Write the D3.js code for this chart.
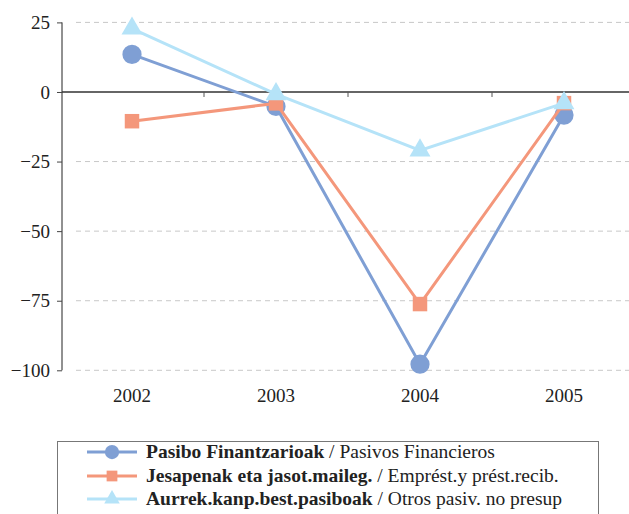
<!DOCTYPE html>
<html><head><meta charset="utf-8">
<script src="https://cdn.jsdelivr.net/npm/d3@7"></script>
<style>
body{margin:0;background:#fff;}
svg{display:block;}
svg text{font-family:"Liberation Serif","DejaVu Serif",Tinos,"Times New Roman",serif !important;}
</style></head>
<body><svg id="c" width="629" height="514"></svg>
<script>
const years = ["2002","2003","2004","2005"];
const yTicks = [25,0,-25,-50,-75,-100];
const pasibo = [13.5,-5.2,-97.8,-8.3];
const jesapenak = [-10.5,-4.1,-76.2,-4];
const aurrek = [22.8,-0.8,-21,-4];
const seriesNames = [
  ["Pasibo Finantzarioak"," / Pasivos Financieros"],
  ["Jesapenak eta jasot.maileg."," / Emprést.y prést.recib."],
  ["Aurrek.kanp.best.pasiboak"," / Otros pasiv. no presup"]
];
const colors = ["#7f9fd4","#f4977b","#b5e3f8"];
const symbols = [d3.symbolCircle,d3.symbolSquare,d3.symbolTriangle];
const symSizes = [290,210,190];
const series = [pasibo,jesapenak,aurrek];

const svg = d3.select("#c");
const x = d3.scaleBand().domain(years).range([60,636]);
const y = d3.scaleLinear().domain([-100,25]).range([370.3,22.4]);
const axX = 62;

svg.append("g").selectAll("line").data(yTicks.filter(v=>v!==0)).join("line")
  .attr("x1",76).attr("x2",629).attr("y1",d=>y(d)).attr("y2",d=>y(d))
  .attr("stroke","#c8c8c8").attr("stroke-width",1).attr("stroke-dasharray","5,4");

const ya = svg.append("g").attr("transform",`translate(${axX},0)`)
  .call(d3.axisLeft(y).tickValues(yTicks).tickSize(5).tickPadding(7).tickFormat(d3.format("d")));
ya.attr("font-family",null);
ya.select(".domain").attr("stroke","#222").attr("d",`M0,${y(25)}V${y(-100)}`);
ya.selectAll(".tick line").attr("stroke","#444");
ya.selectAll("text").attr("font-size",19).attr("fill","#222");

const xa = svg.append("g").attr("transform",`translate(0,${y(0)})`)
  .call(d3.axisBottom(x).tickSize(0).tickFormat(""));
xa.select(".domain").attr("stroke","#333").attr("stroke-width",1.5).attr("d",`M${axX},0H629`);
svg.append("g").selectAll("line").data(years.slice(1)).join("line")
  .attr("x1",d=>x(d)).attr("x2",d=>x(d)).attr("y1",y(0)).attr("y2",y(0)+5)
  .attr("stroke","#555").attr("stroke-width",1);

svg.append("g").selectAll("text").data(years).join("text")
  .attr("x",d=>x(d)+x.bandwidth()/2).attr("y",402).attr("text-anchor","middle")
  .attr("font-size",19).attr("fill","#222").text(d=>d);

const line = d3.line().x((d,i)=>x(years[i])+x.bandwidth()/2).y(d=>y(d));
series.forEach((s,k)=>{
  const g = svg.append("g");
  g.append("path").datum(s).attr("d",line).attr("fill","none")
    .attr("stroke",colors[k]).attr("stroke-width",3);
  g.selectAll("path.m").data(s).join("path").attr("class","m")
    .attr("d",d3.symbol().type(symbols[k]).size(symSizes[k]))
    .attr("transform",(d,i)=>`translate(${x(years[i])+x.bandwidth()/2},${y(d)})`)
    .attr("fill",colors[k]);
});

const lg = svg.append("g");
lg.append("rect").attr("x",57.5).attr("y",441.5).attr("width",541).attr("height",80)
  .attr("fill","none").attr("stroke","#777").attr("stroke-width",1);
const rowY = [452,476,499];
seriesNames.forEach((n,k)=>{
  lg.append("line").attr("x1",87).attr("x2",137).attr("y1",rowY[k]).attr("y2",rowY[k])
    .attr("stroke",colors[k]).attr("stroke-width",3);
  lg.append("path").attr("d",d3.symbol().type(symbols[k]).size(symSizes[k]*0.55))
    .attr("transform",`translate(112,${rowY[k]})`).attr("fill",colors[k]);
  const t = lg.append("text").attr("x",146).attr("y",rowY[k]+6).attr("font-size",19.5).attr("fill","#222");
  t.append("tspan").attr("font-weight","bold").text(n[0]);
  t.append("tspan").text(n[1]);
});
</script></body></html>
